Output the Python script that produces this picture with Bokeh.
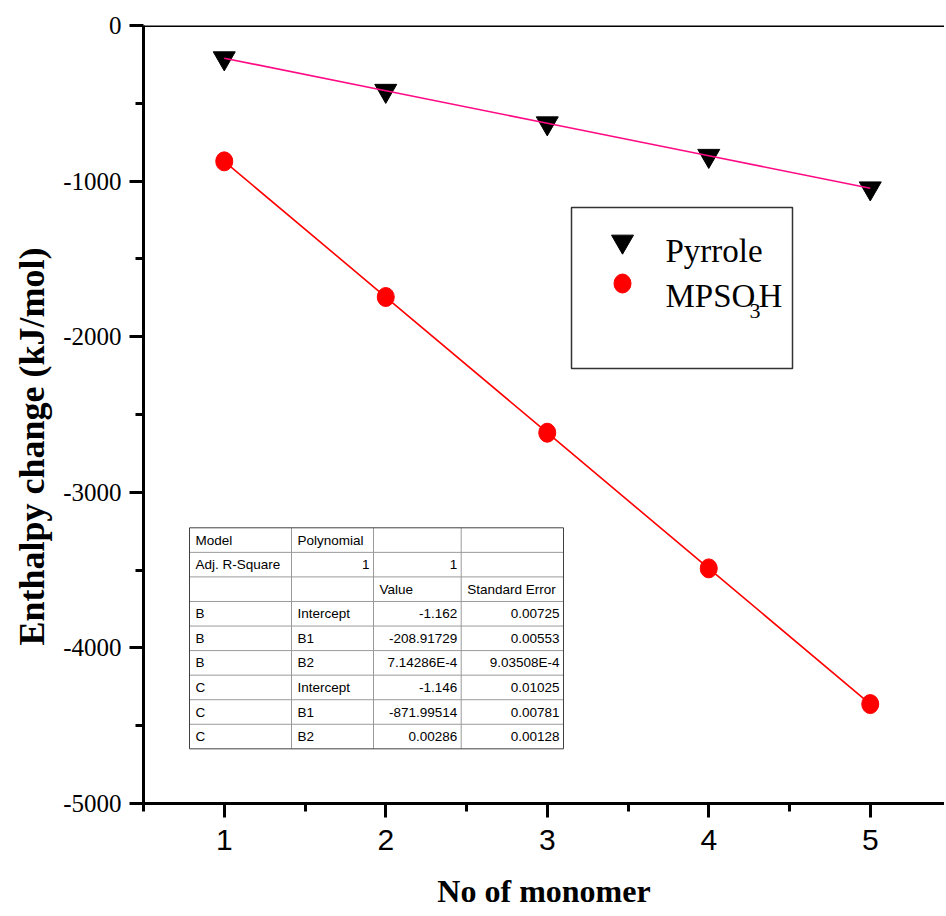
from bokeh.plotting import figure
from bokeh.models import Range1d, FixedTicker, Span, Title
from bokeh.core.properties import value
from bokeh.embed import file_html
from bokeh.resources import INLINE

# ---------------- data ----------------
monomers = [1, 2, 3, 4, 5]
pyrrole = [-210, -419, -628, -837, -1046]
mpso3h = [-873, -1745, -2617, -3489, -4361]

x_ticks = [1, 2, 3, 4, 5]
x_minor = [0.5, 1.5, 2.5, 3.5, 4.5, 5.5]
y_ticks = [0, -1000, -2000, -3000, -4000, -5000]
y_minor = [-500, -1500, -2500, -3500, -4500]

x_title = "No of monomer"
y_title = "Enthalpy change (kJ/mol)"
legend_pyrrole = "Pyrrole"
legend_mp = ["MPSO", "3", "H"]

table_col0 = ["Model", "Adj. R-Square", "", "B", "B", "B", "C", "C", "C"]
table_col1 = ["Polynomial", "1", "", "Intercept", "B1", "B2", "Intercept", "B1", "B2"]
table_col2 = ["", "1", "Value", "-1.162", "-208.91729", "7.14286E-4", "-1.146", "-871.99514", "0.00286"]
table_col3 = ["", "", "Standard Error", "0.00725", "0.00553", "9.03508E-4", "0.01025", "0.00781", "0.00128"]

# ---------------- figure ----------------
W, H = 944, 914
FL, FT, FB = 143, 25, 803
FR = W
X0 = 0.5
X1 = X0 + (FR - FL) / 161.5
Y0, Y1 = -5000, 0
p = figure(width=W, height=H, output_backend="svg", toolbar_location=None,
           x_range=Range1d(X0, X1), y_range=Range1d(Y0, Y1),
           min_border_left=FL, min_border_right=0, min_border_top=FT, min_border_bottom=H - FB)
p.grid.visible = False
p.outline_line_color = None
p.background_fill_color = "white"
p.border_fill_color = "white"

def dx(px):
    return X0 + (px - FL) / (FR - FL) * (X1 - X0)
def dy(py):
    return Y1 - (py - FT) / (FB - FT) * (Y1 - Y0)

xax = p.xaxis[0]
yax = p.yaxis[0]
for ax in (xax, yax):
    ax.axis_line_width = 3
    ax.axis_line_color = "black"
    ax.major_tick_line_width = 3
    ax.minor_tick_line_width = 3
    ax.major_tick_line_color = "black"
    ax.minor_tick_line_color = "black"
    ax.major_tick_in = 0
    ax.minor_tick_in = 0
    ax.major_tick_out = 14
    ax.minor_tick_out = 8
    ax.major_label_text_color = "black"

xax.ticker = FixedTicker(ticks=x_ticks, minor_ticks=x_minor)
xax.major_label_text_font = "Liberation Sans"
xax.major_label_text_font_size = "30px"
xax.major_label_standoff = 12
xax.axis_label = x_title
xax.axis_label_text_font = "Liberation Serif"
xax.axis_label_text_font_size = "32px"
xax.axis_label_text_font_style = "bold"
xax.axis_label_text_color = "black"
xax.axis_label_standoff = 20

yax.ticker = FixedTicker(ticks=y_ticks, minor_ticks=y_minor)
yax.major_label_overrides = {t: str(t) for t in y_ticks}
yax.major_label_text_font = "Times New Roman"
yax.major_label_text_font_style = "normal"
yax.major_label_text_font_size = "25px"
yax.major_label_standoff = 8

# top frame line
p.add_layout(Span(location=0, dimension="width", line_width=3, line_color="black"))

# y title (placed in the left panel, shifted along the axis like the reference)
p.add_layout(Title(text=y_title, align="left", offset=FB - 645, text_font="Liberation Serif",
                   text_font_size="36px", text_font_style="bold", text_color="black",
                   standoff=18), "left")

# ---------------- series ----------------
p.scatter(monomers, pyrrole, marker="inverted_triangle", size=22,
          fill_color="black", line_color="black")
p.line(monomers, pyrrole, line_color="#FF0A84", line_width=1.6)
p.line(monomers, mpso3h, line_color="#FF0000", line_width=1.6)
p.ellipse(monomers, mpso3h, width=17, height=19, width_units="screen", height_units="screen",
          fill_color="#FF0000", line_color="#FF0000")

# ---------------- legend ----------------
p.quad(left=[dx(571)], right=[dx(792)], top=[dy(207)], bottom=[dy(368)],
       fill_color="white", line_color="#333333", line_width=1.5)
p.scatter([dx(622)], [dy(241)], marker="inverted_triangle", size=22,
          fill_color="black", line_color="black")
p.ellipse([dx(622)], [dy(283)], width=17, height=19, width_units="screen", height_units="screen",
          fill_color="#FF0000", line_color="#FF0000")
serif = value("Liberation Serif")
p.text([dx(665)], [dy(250)], text=[legend_pyrrole], text_font=serif, text_font_size="33px",
       text_baseline="alphabetic", text_color="black")
p.text([dx(665)], [dy(295)], text=[legend_mp[0]], text_font=serif, text_font_size="33px",
       text_baseline="alphabetic", text_color="black")
p.text([dx(749)], [dy(310)], text=[legend_mp[1]], text_font=serif, text_font_size="22px",
       text_baseline="alphabetic", text_color="black")
p.text([dx(758)], [dy(295)], text=[legend_mp[2]], text_font=serif, text_font_size="33px",
       text_baseline="alphabetic", text_color="black")

# ---------------- fit table ----------------
col_px = [189, 291, 373, 460.7, 563]
row_top, row_h = 527.3, 24.56
nrows = len(table_col0)
cols = [table_col0, table_col1, table_col2, table_col3]
right_cells = {(1, 1), (1, 2)} | {(r, c) for r in range(3, nrows) for c in (2, 3)}
row_bot = row_top + nrows * row_h

p.quad(left=[dx(col_px[0])], right=[dx(col_px[-1])], top=[dy(row_top)], bottom=[dy(row_bot)],
       fill_color="white", line_color=None)
hx0, hx1, hy = [], [], []
for r in range(1, nrows):
    hx0.append(dx(col_px[0])); hx1.append(dx(col_px[-1])); hy.append(dy(row_top + r * row_h))
p.segment(x0=hx0, y0=hy, x1=hx1, y1=hy, line_color="#9a9a9a", line_width=1)
vx, vy0, vy1 = [], [], []
for c in range(1, len(col_px) - 1):
    vx.append(dx(col_px[c])); vy0.append(dy(row_top)); vy1.append(dy(row_bot))
p.segment(x0=vx, y0=vy0, x1=vx, y1=vy1, line_color="#9a9a9a", line_width=1)
p.quad(left=[dx(col_px[0])], right=[dx(col_px[-1])], top=[dy(row_top)], bottom=[dy(row_bot)],
       fill_color=None, line_color="#404040", line_width=1)

lx, ly, lt, rx, ry, rt = [], [], [], [], [], []
for c, col in enumerate(cols):
    for r, s in enumerate(col):
        if not s:
            continue
        yc = dy(row_top + (r + 0.5) * row_h)
        if (r, c) in right_cells:
            rx.append(dx(col_px[c + 1] - 4)); ry.append(yc); rt.append(s)
        else:
            lx.append(dx(col_px[c] + 6)); ly.append(yc); lt.append(s)
tfont = value("Liberation Sans")
p.text(lx, ly, text=lt, text_font=tfont, text_font_size="13.5px", text_baseline="middle",
       text_align="left", text_color="black")
p.text(rx, ry, text=rt, text_font=tfont, text_font_size="13.5px", text_baseline="middle",
       text_align="right", text_color="black")

open("out.html", "w").write(file_html(p, INLINE))
